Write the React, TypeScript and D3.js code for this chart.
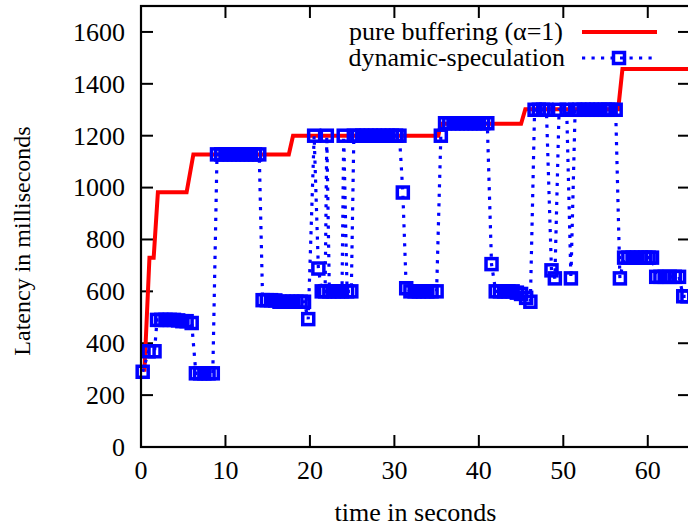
import React from "react";
import * as d3 from "d3";

const xTicks = [0, 10, 20, 30, 40, 50, 60];
const yTicks = [0, 200, 400, 600, 800, 1000, 1200, 1400, 1600];

const bufferingTime = [0.4, 1.0, 1.5, 2.0, 5.4, 6.2, 17.5, 18.0, 35.2, 35.5, 45.0, 45.5, 56.5, 57.0, 65.0];
const bufferingLatency = [290, 730, 730, 982, 982, 1128, 1128, 1200, 1200, 1246, 1246, 1302, 1302, 1457, 1457];

const speculationTime = [
  0.2, 0.9, 1.6, 1.9, 2.4, 2.9, 3.4, 3.9, 4.4, 4.9, 5.4, 6.0,
  6.5, 7.0, 7.5, 8.0, 8.5,
  9.0, 9.5, 10.0, 10.5, 11.0, 11.5, 12.0, 12.5, 13.0, 13.5, 14.0,
  14.4, 14.9, 15.4, 15.9, 16.4, 16.9, 17.4, 17.9, 18.4, 18.9, 19.3,
  19.8, 20.5, 21.0, 21.4, 21.8, 22.0, 22.3, 22.8, 23.3, 23.8, 24.0, 24.4, 24.9,
  25.2, 25.7, 26.2, 26.7, 27.2, 27.7, 28.2, 28.7, 29.2, 29.7, 30.2, 30.6,
  31.0, 31.4, 31.9, 32.4, 32.9, 33.4, 33.9, 34.4, 35.0,
  35.5, 36.0, 36.5, 37.0, 37.5, 38.0, 38.5, 39.0, 39.5, 40.0, 40.5,
  41.0, 41.5, 42.0, 42.5, 43.0, 43.5, 44.0, 44.5, 45.0, 45.6,
  46.1, 46.6, 47.1, 47.6, 48.0, 48.6, 49.0, 49.5, 50.4,
  50.9, 51.4, 51.9, 52.4, 52.9, 53.4, 53.9, 54.4, 54.9, 55.3, 55.6,
  56.2, 56.7, 57.2, 57.7, 58.2, 58.7, 59.2, 59.7, 60.1,
  60.5, 61.0, 61.5, 62.0, 62.6, 63.2, 63.7, 64.2, 64.7,
];
const speculationLatency = [
  290, 369, 369, 490, 490, 490, 490, 490, 488, 485, 485, 478,
  284, 284, 284, 284, 284,
  1128, 1128, 1128, 1128, 1128, 1128, 1128, 1128, 1128, 1128, 1128,
  566, 566, 566, 565, 560, 560, 560, 560, 560, 560, 560,
  493, 1200, 688, 600, 600, 1200, 600, 600, 600, 600, 1200, 600, 600,
  1200, 1200, 1200, 1200, 1200, 1200, 1200, 1200, 1200, 1200, 1200, 1200,
  981, 612, 600, 600, 600, 600, 600, 600, 600,
  1200, 1248, 1248, 1248, 1248, 1248, 1248, 1248, 1248, 1248, 1248, 1248,
  705, 600, 600, 600, 600, 600, 595, 590, 575, 560,
  1300, 1300, 1300, 1300, 681, 650, 1300, 1300, 650,
  1300, 1300, 1300, 1300, 1300, 1300, 1300, 1300, 1300, 1300, 1300,
  650, 730, 730, 730, 730, 730, 730, 730, 730,
  656, 656, 656, 656, 656, 656, 581, 581, 581,
];

const legendLabels = ["pure buffering (\u03b1=1)", "dynamic-speculation"];
const xLabel = "time in seconds";
const yLabel = "Latency in milliseconds";

const W = 688;
const H = 527;
const left = 141;
const right = 690;
const top = 6;
const bottom = 447;
const FONT = "'Liberation Serif', 'Times New Roman', serif";
const RED = "#ff0000";
const BLUE = "#0000ff";

export default function App() {
  const x = d3.scaleLinear().domain([0, 65]).range([left, right]);
  const y = d3.scaleLinear().domain([0, 1700]).range([bottom, top]);

  const buffering = bufferingTime.map((t, i) => [t, bufferingLatency[i]] as [number, number]);
  const speculation = speculationTime.map((t, i) => [t, speculationLatency[i]] as [number, number]);

  const line = d3
    .line<[number, number]>()
    .x((d) => x(d[0]))
    .y((d) => y(d[1]));

  const ms = 11;
  const tickLen = 12;

  return (
    <svg
      width={W}
      height={H}
      style={{ position: "absolute", left: 0, top: 0, background: "#fff" }}
      fontFamily={FONT}
    >
      <defs>
        <clipPath id="plotclip">
          <rect x={left} y={top} width={right - left} height={bottom - top} />
        </clipPath>
      </defs>
      <rect x={0} y={0} width={W} height={H} fill="#fff" />

      {/* ticks */}
      <g stroke="#000" strokeWidth={2}>
        {yTicks.map((v) => (
          <g key={"yt" + v}>
            <line x1={left} x2={left + tickLen} y1={y(v)} y2={y(v)} />
            <line x1={right} x2={right - tickLen} y1={y(v)} y2={y(v)} />
          </g>
        ))}
        {xTicks.map((v) => (
          <g key={"xt" + v}>
            <line x1={x(v)} x2={x(v)} y1={bottom} y2={bottom - tickLen} />
            <line x1={x(v)} x2={x(v)} y1={top} y2={top + tickLen} />
          </g>
        ))}
      </g>

      {/* tick labels */}
      <g fontSize={26} fill="#000">
        {yTicks.map((v) => (
          <text key={"yl" + v} x={125} y={y(v)} dy="0.34em" textAnchor="end">
            {v}
          </text>
        ))}
        {xTicks.map((v) => (
          <text key={"xl" + v} x={x(v)} y={470} dy="0.34em" textAnchor="middle">
            {v}
          </text>
        ))}
        <text x={(left + right) / 2} y={512} dy="0.34em" textAnchor="middle">
          {xLabel}
        </text>
        <text
          transform={`translate(22,${241}) rotate(-90)`}
          dy="0.34em"
          textAnchor="middle"
          fontSize={24}
        >
          {yLabel}
        </text>
      </g>

      {/* data */}
      <g clipPath="url(#plotclip)">
        <path d={line(buffering) || ""} fill="none" stroke={RED} strokeWidth={4} strokeLinejoin="miter" />
        <path
          d={line(speculation) || ""}
          fill="none"
          stroke={BLUE}
          strokeWidth={3.2}
          strokeDasharray="3.2 6.3"
        />
      </g>
      <g fill="none" stroke={BLUE} strokeWidth={3.5}>
        {speculation.map((d, i) => (
          <rect key={"m" + i} x={x(d[0]) - ms / 2} y={y(d[1]) - ms / 2} width={ms} height={ms} />
        ))}
      </g>

      {/* legend */}
      <g fontSize={26} fill="#000">
        <text x={563} y={40} textAnchor="end">
          {legendLabels[0]}
        </text>
        <text x={565} y={66} textAnchor="end">
          {legendLabels[1]}
        </text>
      </g>
      <line x1={582} x2={657} y1={32} y2={32} stroke={RED} strokeWidth={4} />
      <line x1={582} x2={653} y1={58} y2={58} stroke={BLUE} strokeWidth={3.2} strokeDasharray="3.2 6.3" />
      <rect x={619 - ms / 2} y={58 - ms / 2} width={ms} height={ms} fill="none" stroke={BLUE} strokeWidth={3.5} />

      {/* frame */}
      <rect x={left} y={top} width={right - left} height={bottom - top} fill="none" stroke="#000" strokeWidth={2.2} />
    </svg>
  );
}
